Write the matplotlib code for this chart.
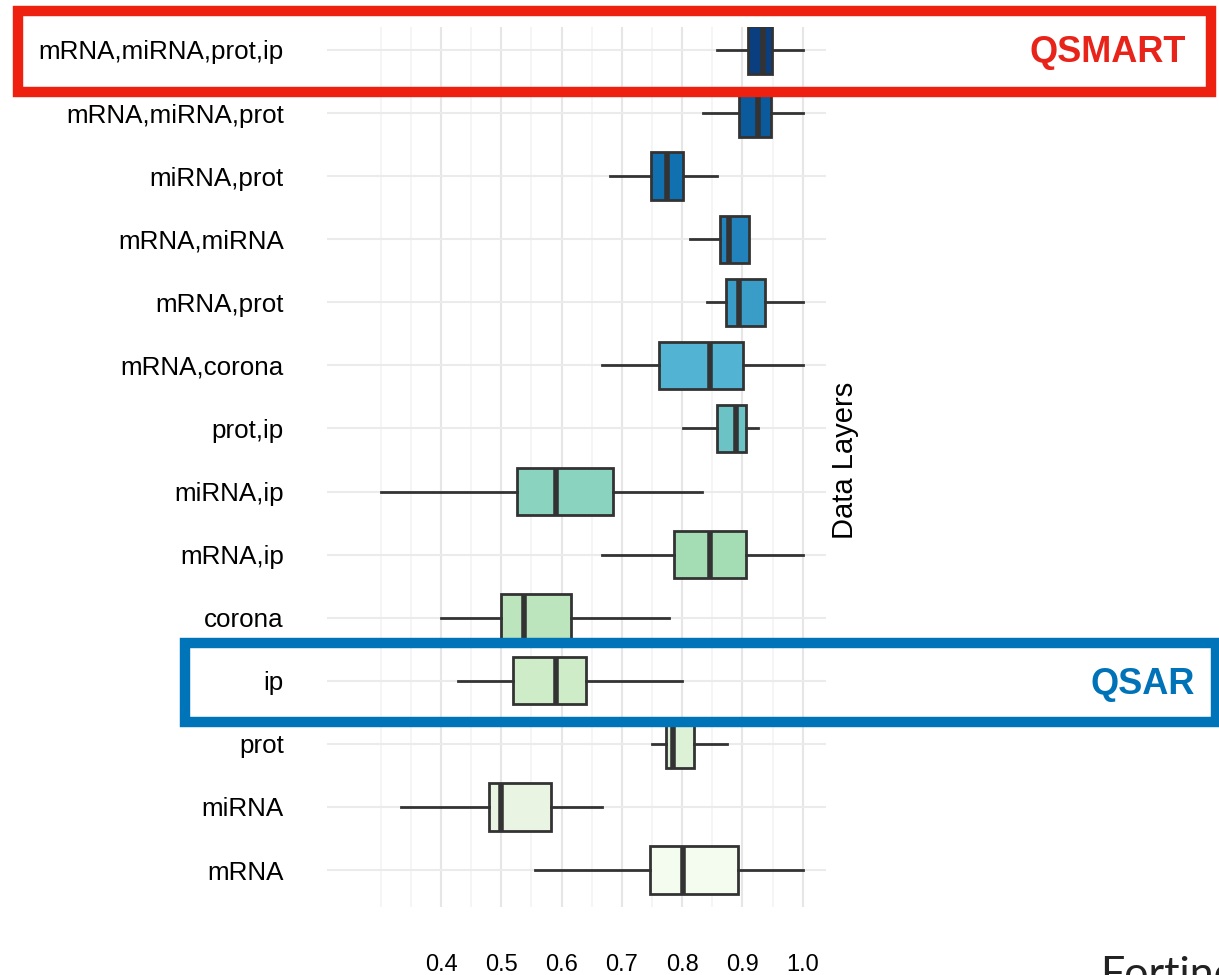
import matplotlib
matplotlib.use("Agg")
import matplotlib.pyplot as plt
from matplotlib.patches import Rectangle
import numpy as np

# Data layers, top to bottom
layers = ["mRNA,miRNA,prot,ip", "mRNA,miRNA,prot", "miRNA,prot", "mRNA,miRNA",
          "mRNA,prot", "mRNA,corona", "prot,ip", "miRNA,ip", "mRNA,ip",
          "corona", "ip", "prot", "miRNA", "mRNA"]
whis_lo = [0.858, 0.834, 0.680, 0.813, 0.841, 0.667, 0.801, 0.300, 0.667, 0.400, 0.428, 0.750, 0.334, 0.556]
q1 = [0.909, 0.894, 0.748, 0.863, 0.873, 0.762, 0.858, 0.526, 0.786, 0.500, 0.519, 0.773, 0.480, 0.747]
med = [0.934, 0.926, 0.775, 0.878, 0.894, 0.846, 0.889, 0.591, 0.846, 0.538, 0.591, 0.785, 0.500, 0.801]
q3 = [0.949, 0.947, 0.801, 0.911, 0.937, 0.901, 0.906, 0.685, 0.906, 0.616, 0.641, 0.820, 0.582, 0.893]
whis_hi = [1.000, 1.000, 0.858, 0.911, 1.000, 1.000, 0.926, 0.833, 1.000, 0.778, 0.800, 0.874, 0.667, 1.000]
fills = ["#0a3e7e", "#0a5a9c", "#1170b0", "#2283bc", "#3a9dc8", "#52b4d2", "#6cc3c6",
         "#8ad3bf", "#a4dcb4", "#bce5bd", "#cfecc9", "#ddf1d6", "#e9f5e2", "#f4fbef"]
major_ticks = [0.4, 0.5, 0.6, 0.7, 0.8, 0.9, 1.0]
minor_ticks = [0.30, 0.35, 0.45, 0.55, 0.65, 0.75, 0.85, 0.95]

W, H = 1219, 975
fig = plt.figure(figsize=(W / 100, H / 100), dpi=100)
ax = fig.add_axes([327 / W, 1 - 907 / H, (826 - 327) / W, (907 - 27) / H])

n = len(layers)
pos = np.arange(n, 0, -1)
stats = [dict(whislo=a, q1=b, med=c, q3=d, whishi=e, fliers=[])
         for a, b, c, d, e in zip(whis_lo, q1, med, q3, whis_hi)]
bp = ax.bxp(stats, positions=pos, orientation="horizontal", widths=0.75,
            patch_artist=True, showcaps=False,
            boxprops=dict(edgecolor="#333333", linewidth=2.0),
            whiskerprops=dict(color="#333333", linewidth=2.0),
            medianprops=dict(color="#333333", linewidth=4.0, solid_capstyle="butt"),
            zorder=3)
for patch, c in zip(bp["boxes"], fills):
    patch.set_facecolor(c)

ax.set_xlim(0.2109, 1.0385)
ax.set_ylim(1 - 37 / 63.08, n + 23 / 63.08)
for v in minor_ticks:
    ax.axvline(v, color="#f3f3f3", lw=1.2, zorder=0)
for v in major_ticks:
    ax.axvline(v, color="#e6e6e6", lw=1.5, zorder=0)
for p in pos:
    ax.axhline(p, color="#ebebeb", lw=1.5, zorder=0)

ax.set_xticks(major_ticks)
ax.set_xticklabels([f"{v:.1f}" for v in major_ticks], fontsize=17, family="Liberation Sans")
ax.set_yticks(pos)
ax.set_yticklabels(layers, fontsize=18.7, family="Liberation Sans")
ax.tick_params(axis="x", length=0, pad=34)
ax.tick_params(axis="y", length=0, pad=31)
for s in ax.spines.values():
    s.set_visible(False)

fig.text(845 / W, 1 - 460 / H, "Data Layers", rotation=90, ha="center", va="center",
         fontsize=21, family="Liberation Sans")

# highlight boxes
fig.add_artist(Rectangle((18 / W, 1 - 92 / H), (1211 - 18) / W, (92 - 11) / H,
                         transform=fig.transFigure, fill=False, edgecolor="#ee2111", lw=7.5))
fig.add_artist(Rectangle((185 / W, 1 - 722 / H), (1216 - 185) / W, (722 - 643) / H,
                         transform=fig.transFigure, fill=False, edgecolor="#0074b8", lw=7.5))
fig.text(1186 / W, 1 - 52 / H, "QSMART", ha="right", va="center", fontsize=26,
         fontweight="bold", color="#e8231a", family="Liberation Sans")
fig.text(1195 / W, 1 - 685 / H, "QSAR", ha="right", va="center", fontsize=26,
         fontweight="bold", color="#0072b8", family="Liberation Sans")
fig.text(1100 / W, 1 - 987 / H, "Fortinet", ha="left", va="baseline", fontsize=31,
         family="Lato", color="#222222")

fig.savefig("out.png", dpi=100)
